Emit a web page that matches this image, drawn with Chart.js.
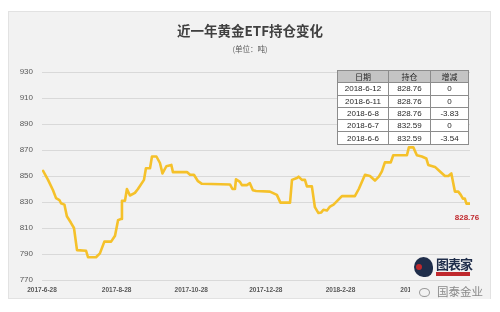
<!DOCTYPE html>
<html>
<head>
<meta charset="utf-8">
<script src="https://cdn.jsdelivr.net/npm/chart.js@4.4.1/dist/chart.umd.min.js"></script>
<style>
  html, body { margin:0; padding:0; background:#ffffff; }
  #wrap { position:relative; width:500px; height:312px; overflow:hidden; font-family:"Liberation Sans","Noto Sans CJK SC",sans-serif; }
  #panel { position:absolute; left:8px; top:11px; width:483px; height:288px; background:#f2f2f2; border:1px solid #e2e2e2; box-sizing:border-box; }
  #c { position:absolute; left:0; top:0; }
  #title { position:absolute; left:0; width:500px; top:21px; text-align:center; font:bold 13.5px "Noto Sans CJK SC",sans-serif; color:#404040; line-height:18px; }
  #sub { position:absolute; left:0; width:500px; top:44px; text-align:center; font:7.5px "Noto Sans CJK SC",sans-serif; color:#595959; line-height:10px; }
  #tbl { position:absolute; left:337px; top:70px; border-collapse:collapse; font:8px "Liberation Sans","Noto Sans CJK SC",sans-serif; color:#262626; }
  #tbl td, #tbl th { border:1px solid #8c8c8c; height:11.3px; padding:0; text-align:center; line-height:11px; background:#ffffff; }
  #tbl th { background:#c4c4c4; font-weight:normal; font-family:"Noto Sans CJK SC",sans-serif; }
  #logo { position:absolute; left:414px; top:256px; width:60px; height:24px; }
  #head { position:absolute; left:0; top:1px; width:19px; height:20px; border-radius:50% 50% 40% 50%; background:#1f2d4a; }
  #head i { position:absolute; left:2px; top:7px; width:6px; height:6px; border-radius:50%; background:#c0282d; }
  #lt { position:absolute; left:22px; top:0; font:bold 13px "Noto Sans CJK SC",sans-serif; color:#1f2d4a; line-height:15px; letter-spacing:-1px; }
  #lbar { position:absolute; left:22px; top:16px; width:34px; height:4px; background:#c0282d; }
  #wm { position:absolute; left:410px; top:284px; width:80px; height:15px; background:#f2f2f2; }
  #wm span { position:absolute; left:27px; top:0; font:11.5px "Noto Sans CJK SC",sans-serif; color:#8a8a8a; line-height:15px; }
  #wm b { position:absolute; left:9px; top:4px; width:9px; height:7px; border:1px solid #9a9a9a; border-radius:50%; }
</style>
</head>
<body>
<div id="wrap">
  <div id="panel"></div>
  <canvas id="c" width="500" height="312"></canvas>
  <div id="title">近一年黄金ETF持仓变化</div>
  <div id="sub">(单位：吨)</div>
  <table id="tbl"></table>
  <div id="logo"><div id="head"><i></i></div><div id="lt">图表家</div><div id="lbar"></div></div>
  <div id="wm"><b></b><span>国泰金业</span></div>
</div>
<script>
// ---- data ----
const tickLabels = ['2017-6-28','2017-8-28','2017-10-28','2017-12-28','2018-2-28','2018-4-28'];
const tickStep = 42; // trading days between labels
const dayIndex = [0.6,3.4,6.2,7.9,9.8,10.7,12.6,14.0,16.3,18.0,19.7,24.8,25.9,30.4,32.6,35.1,38.9,41.1,42.8,44.5,
  45.0,46.7,47.8,49.5,52.3,54.0,57.4,58.5,60.8,61.9,64.4,66.4,67.8,70.0,72.8,73.7,81.6,83.3,85.5,87.8,
  90.0,105.8,107.2,108.6,109.2,111.4,112.5,115.3,117.0,118.7,120.5,128.3,132.2,134.2,139.6,140.7,143.5,144.4,146.3,148.0,
  149.1,151.9,153.6,155.6,157.2,158.4,160.4,162.1,164.1,168.8,173.3,176.1,178.3,181.8,184.6,187.4,189.6,191.3,193.0,196.3,
  197.7,205.4,206.5,209.0,211.0,213.8,216.3,217.4,221.2,224.0,226.8,228.7,230.4,232.4,234.3,235.7,236.9,238.0,238.9,240.0,240.9];
const holdings = [854,847,839,833,831.5,829,828,819,814,810,793,792.5,787.5,787.5,790.5,799.5,799.5,804,816,817,
  831,831,840,835,837,840,847,856,856,865,865,860,852,857.5,858.5,853,853,851,851,846,
  844,843.5,840,840,847.5,845.5,843,843,844.5,839,838.5,838,835.5,829.5,829.5,847,848.5,849.5,847,847,
  842,842,826,821.5,822,824,823.5,826.5,828,834.5,834.5,834.5,840,851,850,846.5,849.5,853.5,860.5,860.5,
  866,866,872,872,866,865,863.5,858.5,857,853.5,850,850,852,838,838,835.5,832.59,832.59,828.76,828.76,828.76];
const tableDates = ['2018-6-12','2018-6-11','2018-6-8','2018-6-7','2018-6-6'];
const tableHold = ['828.76','828.76','828.76','832.59','832.59'];
const tableChange = ['0','0','-3.83','0','-3.54'];
const tableHead = ['日期','持仓','增减'];

// ---- table ----
const tbl = document.getElementById('tbl');
const colW = [50, 41, 37];
let html = '<tr>' + tableHead.map((h,i)=>`<th style="width:${colW[i]}px">${h}</th>`).join('') + '</tr>';
tableDates.forEach((d,i)=>{
  html += `<tr><td>${d}</td><td>${tableHold[i]}</td><td>${tableChange[i]}</td></tr>`;
});
tbl.innerHTML = html;

// ---- chart ----
const endLabel = {
  id:'endLabel',
  afterDatasetsDraw(chart){
    const meta = chart.getDatasetMeta(0);
    const pt = meta.data[meta.data.length-1];
    const ctx = chart.ctx;
    ctx.save();
    ctx.font = 'bold 8px "Liberation Sans", sans-serif';
    ctx.fillStyle = '#c0282d';
    ctx.textAlign = 'center';
    ctx.textBaseline = 'middle';
    ctx.fillText(holdings[holdings.length-1].toFixed(2), pt.x - 3, pt.y + 14);
    ctx.restore();
  }
};

new Chart(document.getElementById('c'), {
  type:'line',
  data:{
    datasets:[{
      data: dayIndex.map((x,i)=>({x, y: holdings[i]})),
      borderColor:'#f5c12a',
      borderWidth:2.6,
      pointRadius:0,
      tension:0,
      borderJoinStyle:'round',
      borderCapStyle:'round'
    }]
  },
  options:{
    responsive:false,
    animation:false,
    devicePixelRatio:1,
    layout:{ padding:{ top:72, right:30, left:0, bottom:0 } },
    plugins:{ legend:{display:false}, tooltip:{enabled:false} },
    scales:{
      x:{
        type:'linear',
        min:0,
        max:dayIndex[dayIndex.length-1],
        grid:{ display:false, drawTicks:false },
        border:{ display:false },
        afterBuildTicks(scale){ scale.ticks = tickLabels.map((_,i)=>({value:i*tickStep})); },
        afterFit(scale){ scale.height = 32; },
        ticks:{
          autoSkip:false, maxRotation:0, padding:6,
          font:{ size:6.5, weight:'bold', family:'"Liberation Sans", sans-serif' },
          color:'#595959',
          callback:(v,i)=>tickLabels[i]
        }
      },
      y:{
        min:770, max:930,
        grid:{ color:'#d9d9d9', lineWidth:1, drawTicks:false },
        border:{ display:false },
        afterFit(scale){ scale.width = 42; },
        ticks:{
          stepSize:20, padding:9,
          font:{ size:8, family:'"Liberation Sans", sans-serif' },
          color:'#595959'
        }
      }
    }
  },
  plugins:[endLabel]
});
</script>
</body>
</html>
